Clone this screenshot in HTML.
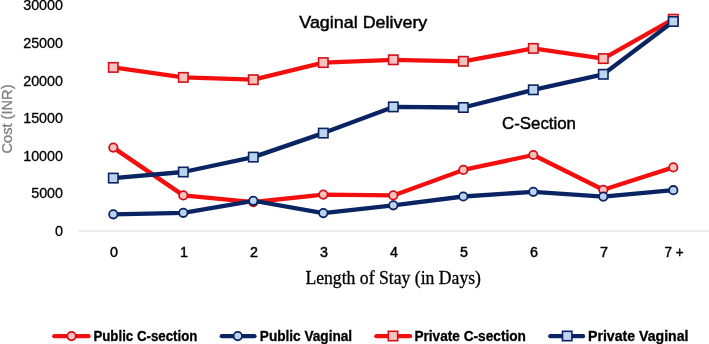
<!DOCTYPE html>
<html><head><meta charset="utf-8"><style>
html,body{margin:0;padding:0;background:#fff;}
body{width:709px;height:344px;overflow:hidden;}
svg{display:block;will-change:transform;}
text{font-family:"Liberation Sans",sans-serif;fill:#000;stroke:#000;stroke-width:0.3px;}
.tk{font-size:14.3px;}
.xl{stroke-width:0.45px;}
.lg{font-size:14px;font-weight:bold;}
.ttl{font-size:16.6px;stroke-width:0.45px;}
.xt{font-family:"Liberation Serif",serif;font-size:17.8px;}
.yt{font-size:14.6px;fill:#7f7f7f;stroke:#7f7f7f;}
</style></head><body>
<svg width="709" height="344" viewBox="0 0 709 344">
<rect width="709" height="344" fill="#fff"/>
<line x1="78.6" y1="231" x2="709" y2="231" stroke="#d9d9d9" stroke-width="1.2"/>
<g class="tk"><text x="63" y="9.8" text-anchor="end" textLength="39.8" lengthAdjust="spacingAndGlyphs">30000</text><text x="63" y="48.0" text-anchor="end" textLength="39.8" lengthAdjust="spacingAndGlyphs">25000</text><text x="63" y="85.5" text-anchor="end" textLength="39.8" lengthAdjust="spacingAndGlyphs">20000</text><text x="63" y="123.0" text-anchor="end" textLength="39.8" lengthAdjust="spacingAndGlyphs">15000</text><text x="63" y="160.5" text-anchor="end" textLength="39.8" lengthAdjust="spacingAndGlyphs">10000</text><text x="63" y="198.0" text-anchor="end" textLength="31.8" lengthAdjust="spacingAndGlyphs">5000</text><text x="63" y="235.5" text-anchor="end" textLength="8.0" lengthAdjust="spacingAndGlyphs">0</text></g>
<g class="tk"><text x="113.9" y="256.9" text-anchor="middle" class="xl">0</text><text x="183.9" y="256.9" text-anchor="middle" class="xl">1</text><text x="253.9" y="256.9" text-anchor="middle" class="xl">2</text><text x="323.9" y="256.9" text-anchor="middle" class="xl">3</text><text x="393.9" y="256.9" text-anchor="middle" class="xl">4</text><text x="463.9" y="256.9" text-anchor="middle" class="xl">5</text><text x="533.9" y="256.9" text-anchor="middle" class="xl">6</text><text x="603.9" y="256.9" text-anchor="middle" class="xl">7</text><text x="674.0" y="256.9" text-anchor="middle" class="xl" textLength="19" lengthAdjust="spacingAndGlyphs">7 +</text></g>
<text class="yt" transform="translate(12.3,153.5) rotate(-90)" textLength="69" lengthAdjust="spacingAndGlyphs">Cost (INR)</text>
<text class="ttl" x="299.3" y="28.3" textLength="128" lengthAdjust="spacingAndGlyphs">Vaginal Delivery</text>
<text class="ttl" x="502" y="128.8" textLength="74" lengthAdjust="spacingAndGlyphs">C-Section</text>
<text class="xt" x="305.4" y="283.7" textLength="175.6" lengthAdjust="spacingAndGlyphs">Length of Stay (in Days)</text>
<polyline points="113.3,147.6 183.3,195.4 253.3,202.1 323.3,194.6 393.3,195.4 463.3,169.9 533.3,155.0 603.3,189.8 673.3,167.4" fill="none" stroke="#f40f0f" stroke-width="4.3" stroke-linejoin="round" stroke-linecap="round"/><circle cx="113.3" cy="147.6" r="4.2" fill="#f9c3bd" stroke="#d0101a" stroke-width="1.8"/><circle cx="183.3" cy="195.4" r="4.2" fill="#f9c3bd" stroke="#d0101a" stroke-width="1.8"/><circle cx="253.3" cy="202.1" r="4.2" fill="#f9c3bd" stroke="#d0101a" stroke-width="1.8"/><circle cx="323.3" cy="194.6" r="4.2" fill="#f9c3bd" stroke="#d0101a" stroke-width="1.8"/><circle cx="393.3" cy="195.4" r="4.2" fill="#f9c3bd" stroke="#d0101a" stroke-width="1.8"/><circle cx="463.3" cy="169.9" r="4.2" fill="#f9c3bd" stroke="#d0101a" stroke-width="1.8"/><circle cx="533.3" cy="155.0" r="4.2" fill="#f9c3bd" stroke="#d0101a" stroke-width="1.8"/><circle cx="603.3" cy="189.8" r="4.2" fill="#f9c3bd" stroke="#d0101a" stroke-width="1.8"/><circle cx="673.3" cy="167.4" r="4.2" fill="#f9c3bd" stroke="#d0101a" stroke-width="1.8"/><polyline points="113.3,214.3 183.3,212.8 253.3,200.8 323.3,213.1 393.3,205.3 463.3,196.5 533.3,191.8 603.3,196.6 673.3,190.2" fill="none" stroke="#0a2463" stroke-width="4.3" stroke-linejoin="round" stroke-linecap="round"/><circle cx="113.3" cy="214.3" r="4.2" fill="#bcd4ee" stroke="#0a2463" stroke-width="1.8"/><circle cx="183.3" cy="212.8" r="4.2" fill="#bcd4ee" stroke="#0a2463" stroke-width="1.8"/><circle cx="253.3" cy="200.8" r="4.2" fill="#bcd4ee" stroke="#0a2463" stroke-width="1.8"/><circle cx="323.3" cy="213.1" r="4.2" fill="#bcd4ee" stroke="#0a2463" stroke-width="1.8"/><circle cx="393.3" cy="205.3" r="4.2" fill="#bcd4ee" stroke="#0a2463" stroke-width="1.8"/><circle cx="463.3" cy="196.5" r="4.2" fill="#bcd4ee" stroke="#0a2463" stroke-width="1.8"/><circle cx="533.3" cy="191.8" r="4.2" fill="#bcd4ee" stroke="#0a2463" stroke-width="1.8"/><circle cx="603.3" cy="196.6" r="4.2" fill="#bcd4ee" stroke="#0a2463" stroke-width="1.8"/><circle cx="673.3" cy="190.2" r="4.2" fill="#bcd4ee" stroke="#0a2463" stroke-width="1.8"/><polyline points="113.3,67.4 183.3,77.4 253.3,79.7 323.3,62.6 393.3,59.8 463.3,61.3 533.3,48.4 603.3,58.6 673.3,19.2" fill="none" stroke="#f40f0f" stroke-width="4.3" stroke-linejoin="round" stroke-linecap="round"/><rect x="108.6" y="62.7" width="9.4" height="9.4" fill="#f9c3bd" stroke="#d0101a" stroke-width="1.6"/><rect x="178.6" y="72.7" width="9.4" height="9.4" fill="#f9c3bd" stroke="#d0101a" stroke-width="1.6"/><rect x="248.6" y="75.0" width="9.4" height="9.4" fill="#f9c3bd" stroke="#d0101a" stroke-width="1.6"/><rect x="318.6" y="57.9" width="9.4" height="9.4" fill="#f9c3bd" stroke="#d0101a" stroke-width="1.6"/><rect x="388.6" y="55.1" width="9.4" height="9.4" fill="#f9c3bd" stroke="#d0101a" stroke-width="1.6"/><rect x="458.6" y="56.6" width="9.4" height="9.4" fill="#f9c3bd" stroke="#d0101a" stroke-width="1.6"/><rect x="528.6" y="43.7" width="9.4" height="9.4" fill="#f9c3bd" stroke="#d0101a" stroke-width="1.6"/><rect x="598.6" y="53.9" width="9.4" height="9.4" fill="#f9c3bd" stroke="#d0101a" stroke-width="1.6"/><rect x="668.6" y="14.5" width="9.4" height="9.4" fill="#f9c3bd" stroke="#d0101a" stroke-width="1.6"/><polyline points="113.3,178.1 183.3,172.0 253.3,157.1 323.3,133.1 393.3,106.9 463.3,107.5 533.3,89.8 603.3,74.3 673.3,21.5" fill="none" stroke="#0a2463" stroke-width="4.3" stroke-linejoin="round" stroke-linecap="round"/><rect x="108.6" y="173.4" width="9.4" height="9.4" fill="#bcd4ee" stroke="#0a2463" stroke-width="1.6"/><rect x="178.6" y="167.3" width="9.4" height="9.4" fill="#bcd4ee" stroke="#0a2463" stroke-width="1.6"/><rect x="248.6" y="152.4" width="9.4" height="9.4" fill="#bcd4ee" stroke="#0a2463" stroke-width="1.6"/><rect x="318.6" y="128.4" width="9.4" height="9.4" fill="#bcd4ee" stroke="#0a2463" stroke-width="1.6"/><rect x="388.6" y="102.2" width="9.4" height="9.4" fill="#bcd4ee" stroke="#0a2463" stroke-width="1.6"/><rect x="458.6" y="102.8" width="9.4" height="9.4" fill="#bcd4ee" stroke="#0a2463" stroke-width="1.6"/><rect x="528.6" y="85.1" width="9.4" height="9.4" fill="#bcd4ee" stroke="#0a2463" stroke-width="1.6"/><rect x="598.6" y="69.6" width="9.4" height="9.4" fill="#bcd4ee" stroke="#0a2463" stroke-width="1.6"/><rect x="668.6" y="16.8" width="9.4" height="9.4" fill="#bcd4ee" stroke="#0a2463" stroke-width="1.6"/>

<line x1="54.3" y1="336.2" x2="88.5" y2="336.2" stroke="#f40f0f" stroke-width="4.3" stroke-linecap="round"/>
<circle cx="71.5" cy="336.1" r="4.2" fill="#f9c3bd" stroke="#d0101a" stroke-width="1.8"/>
<text x="93.4" y="340.5" class="lg" textLength="104" lengthAdjust="spacingAndGlyphs">Public C-section</text>
<line x1="221.8" y1="336.2" x2="254.5" y2="336.2" stroke="#0a2463" stroke-width="4.3" stroke-linecap="round"/>
<circle cx="237.8" cy="336.1" r="4.2" fill="#bcd4ee" stroke="#0a2463" stroke-width="1.8"/>
<text x="259.8" y="340.5" class="lg" textLength="92.3" lengthAdjust="spacingAndGlyphs">Public Vaginal</text>
<line x1="376.4" y1="336.2" x2="410" y2="336.2" stroke="#f40f0f" stroke-width="4.3" stroke-linecap="round"/>
<rect x="388.3" y="331.3" width="9.4" height="9.4" fill="#f9c3bd" stroke="#d0101a" stroke-width="1.6"/>
<text x="414.4" y="340.5" class="lg" textLength="111.5" lengthAdjust="spacingAndGlyphs">Private C-section</text>
<line x1="550.3" y1="336.2" x2="583" y2="336.2" stroke="#0a2463" stroke-width="4.3" stroke-linecap="round"/>
<rect x="562.5" y="331.3" width="9.4" height="9.4" fill="#bcd4ee" stroke="#0a2463" stroke-width="1.6"/>
<text x="588" y="340.5" class="lg" textLength="100.5" lengthAdjust="spacingAndGlyphs">Private Vaginal</text>

</svg>
</body></html>
